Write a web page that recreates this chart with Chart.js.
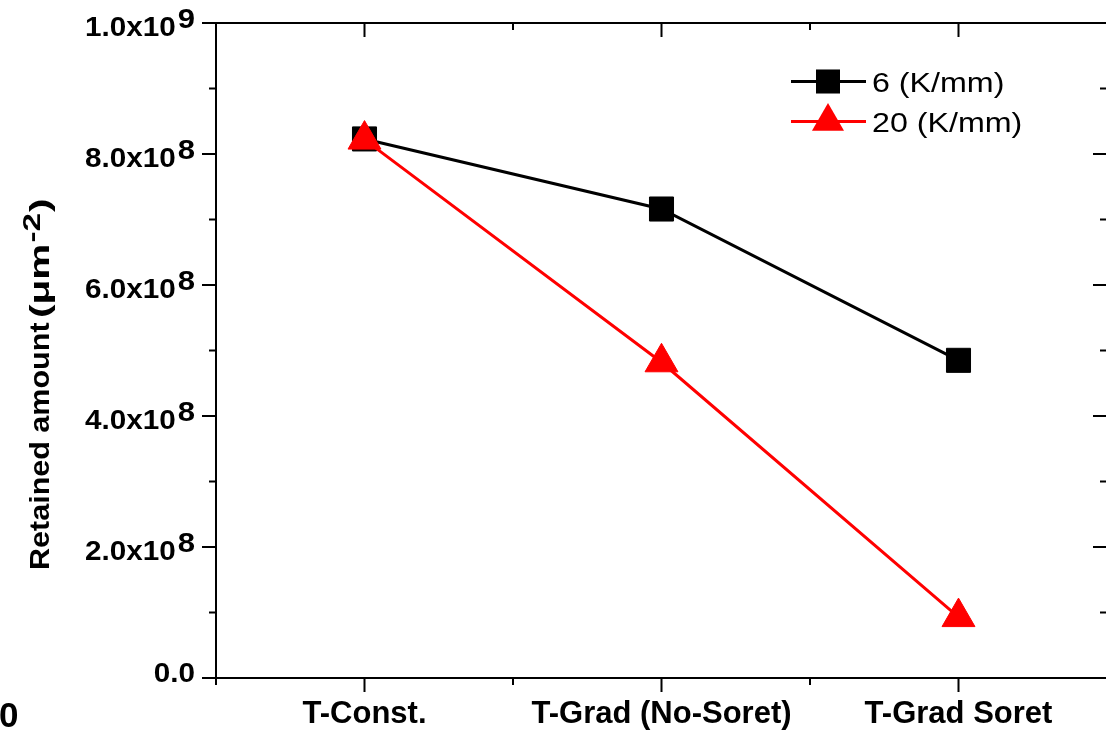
<!DOCTYPE html>
<html><head><meta charset="utf-8">
<script src="https://cdn.jsdelivr.net/npm/chart.js@4/dist/chart.umd.min.js"></script>
<style>
html,body{margin:0;padding:0;background:#fff;overflow:hidden;width:1106px;height:732px}
#wrap{position:absolute;left:0;top:0;width:1108px;height:732px}
</style>
</head><body><div id="wrap"><canvas id="c" width="1108" height="732"></canvas></div>
<script>
// ---- data ----
const categories = ['T-Const.', 'T-Grad (No-Soret)', 'T-Grad Soret'];
const seriesNames = ['6 (K/mm)', '20 (K/mm)'];
const values6K = [8.23e8, 7.16e8, 4.85e8];
const values20K = [8.22e8, 4.82e8, 0.93e8];
const yMajorTicks = [0, 2e8, 4e8, 6e8, 8e8, 1e9];
const yMinorTicks = [1e8, 3e8, 5e8, 7e8, 9e8];
const xMajorTicks = [1, 2, 3];
const xMinorTicks = [0.5, 1.5, 2.5, 3.5];
const yTitleMain = 'Retained amount';
const yTitleUnit = ['(\u03BCm', '-2', ')'];
const strayLabel = '0';

const FONT = '"Liberation Sans", Arial, Helvetica, sans-serif';
const BLACK = '#000000';
const RED = '#ff0000';

function splitTick(v) {
  if (v === 0) return { base: '0.0', exp: '' };
  const e = Math.floor(Math.log10(v) + 1e-9);
  const m = v / Math.pow(10, e);
  return { base: m.toFixed(1) + 'x10', exp: String(e) };
}

// text drawn with a horizontal stretch factor sx; returns advance width
function sText(ctx, txt, x, y, font, sx) {
  ctx.save();
  ctx.font = font;
  ctx.translate(x, y);
  ctx.scale(sx, 1);
  ctx.fillText(txt, 0, 0);
  const w = ctx.measureText(txt).width * sx;
  ctx.restore();
  return w;
}
function sWidth(ctx, txt, font, sx) {
  ctx.save(); ctx.font = font;
  const w = ctx.measureText(txt).width * sx;
  ctx.restore(); return w;
}

function drawMarker(ctx, style, x, y, r, color) {
  ctx.fillStyle = color;
  ctx.beginPath();
  if (style === 'rect') {
    const s = Math.SQRT1_2 * r;
    ctx.rect(x - s, y - s, 2 * s, 2 * s);
  } else {
    let rad = 0;
    ctx.moveTo(x + Math.sin(rad) * r, y - Math.cos(rad) * r);
    rad += 2 * Math.PI / 3;
    ctx.lineTo(x + Math.sin(rad) * r, y - Math.cos(rad) * r);
    rad += 2 * Math.PI / 3;
    ctx.lineTo(x + Math.sin(rad) * r, y - Math.cos(rad) * r);
    ctx.closePath();
  }
  ctx.fill();
}

const originAxes = {
  id: 'originAxes',
  afterDraw(chart) {
    const ctx = chart.ctx, a = chart.chartArea;
    const xs = chart.scales.x, ys = chart.scales.y;
    ctx.save();
    ctx.strokeStyle = BLACK;
    ctx.lineWidth = 2;
    ctx.lineCap = 'butt';
    ctx.beginPath();
    ctx.rect(a.left, a.top, a.right - a.left, a.bottom - a.top);
    ctx.stroke();
    const ML = 14, mL = 7;
    ctx.beginPath();
    const xt = (v, L) => { const p = xs.getPixelForValue(v);
      ctx.moveTo(p, a.bottom); ctx.lineTo(p, a.bottom + L);
      ctx.moveTo(p, a.top); ctx.lineTo(p, a.top + L); };
    const yt = (v, L) => { const p = ys.getPixelForValue(v);
      ctx.moveTo(a.left, p); ctx.lineTo(a.left - L, p);
      ctx.moveTo(a.right, p); ctx.lineTo(a.right - L, p); };
    xMajorTicks.forEach(v => xt(v, ML));
    xMinorTicks.forEach(v => xt(v, mL));
    yMajorTicks.forEach(v => yt(v, ML));
    yMinorTicks.forEach(v => yt(v, mL));
    ctx.stroke();

    // y tick labels with superscript exponent
    ctx.fillStyle = BLACK;
    ctx.textBaseline = 'alphabetic';
    ctx.textAlign = 'left';
    const rightEdge = 195;
    const fb = 'bold 27px ' + FONT, fe = 'bold 27px ' + FONT, SX = 1.1, SXE = 1.15;
    yMajorTicks.forEach(v => {
      const p = ys.getPixelForValue(v);
      const t = splitTick(v);
      const wb = sWidth(ctx, t.base, fb, SX);
      if (t.exp) {
        const we = sWidth(ctx, t.exp, fe, SXE);
        const x0 = rightEdge - we - wb - 2;
        sText(ctx, t.base, x0, p + 12.5, fb, SX);
        sText(ctx, t.exp, x0 + wb + 2, p + 12.5 - 7.5, fe, SXE);
      } else {
        sText(ctx, t.base, rightEdge - wb, p + 4, fb, SX);
      }
    });

    // y title (rotated)
    ctx.save();
    ctx.translate(49, 570);
    ctx.rotate(-Math.PI / 2);
    const ft = 'bold 28px ' + FONT;
    sText(ctx, yTitleMain, 0, 0, ft, 1.09);
    let ux = 252;
    ux += sText(ctx, yTitleUnit[0], ux, 0, ft, 1.45) + 1;
    ux += sText(ctx, yTitleUnit[1], ux, -9, 'bold 23px ' + FONT, 1.45) + 1;
    sText(ctx, yTitleUnit[2], ux, 0, ft, 1.45);
    ctx.restore();

    // stray clipped label at bottom-left
    sText(ctx, strayLabel, -1, 727, 'bold 35px ' + FONT, 1);

    // legend
    const leg = [
      { name: seriesNames[0], color: BLACK, style: 'rect', r: 17, y: 81.5 },
      { name: seriesNames[1], color: RED, style: 'triangle', r: 18.5, y: 121.5 }
    ];
    leg.forEach(it => {
      ctx.strokeStyle = it.color;
      ctx.lineWidth = 3;
      ctx.beginPath();
      ctx.moveTo(791, it.y); ctx.lineTo(866, it.y);
      ctx.stroke();
      drawMarker(ctx, it.style, 828, it.y, it.r, it.color);
      ctx.fillStyle = BLACK;
      sText(ctx, it.name, 872, it.y + 10.5, '28px ' + FONT, 1.15);
    });
    ctx.restore();
  }
};

const toPts = arr => arr.map((v, i) => ({ x: i + 1, y: v }));

new Chart(document.getElementById('c'), {
  type: 'line',
  data: {
    datasets: [
      {
        label: seriesNames[0], data: toPts(values6K), order: 2,
        borderColor: BLACK, backgroundColor: BLACK, borderWidth: 3,
        pointStyle: 'rect', pointRadius: 17, pointBorderWidth: 1,
        pointBorderColor: BLACK, pointBackgroundColor: BLACK, tension: 0
      },
      {
        label: seriesNames[1], data: toPts(values20K), order: 1,
        borderColor: RED, backgroundColor: RED, borderWidth: 3,
        pointStyle: 'triangle', pointRadius: 19, pointBorderWidth: 1,
        pointBorderColor: RED, pointBackgroundColor: RED, tension: 0
      }
    ]
  },
  options: {
    responsive: false,
    animation: false,
    layout: { autoPadding: false, padding: { top: 23, right: 1, left: 0, bottom: 0 } },
    plugins: { legend: { display: false }, tooltip: { enabled: false } },
    scales: {
      x: {
        type: 'linear', position: 'bottom', min: 0.5, max: 3.5,
        afterBuildTicks: s => { s.ticks = xMajorTicks.map(v => ({ value: v })); },
        afterFit: s => { s.height = 54; s.paddingLeft = 0; s.paddingRight = 0; },
        grid: { display: false, drawTicks: false },
        border: { display: false },
        ticks: {
          autoSkip: false, maxRotation: 0, minRotation: 0, padding: 18,
          color: BLACK, font: { family: FONT, size: 31, weight: 'bold' },
          callback: v => categories[Math.round(v) - 1] || ''
        }
      },
      y: {
        type: 'linear', min: 0, max: 1e9,
        afterFit: s => { s.width = 216; s.paddingTop = 0; s.paddingBottom = 0; },
        grid: { display: false, drawTicks: false },
        border: { display: false },
        ticks: { display: false, stepSize: 1e8 }
      }
    }
  },
  plugins: [originAxes]
});
</script>
</body></html>
